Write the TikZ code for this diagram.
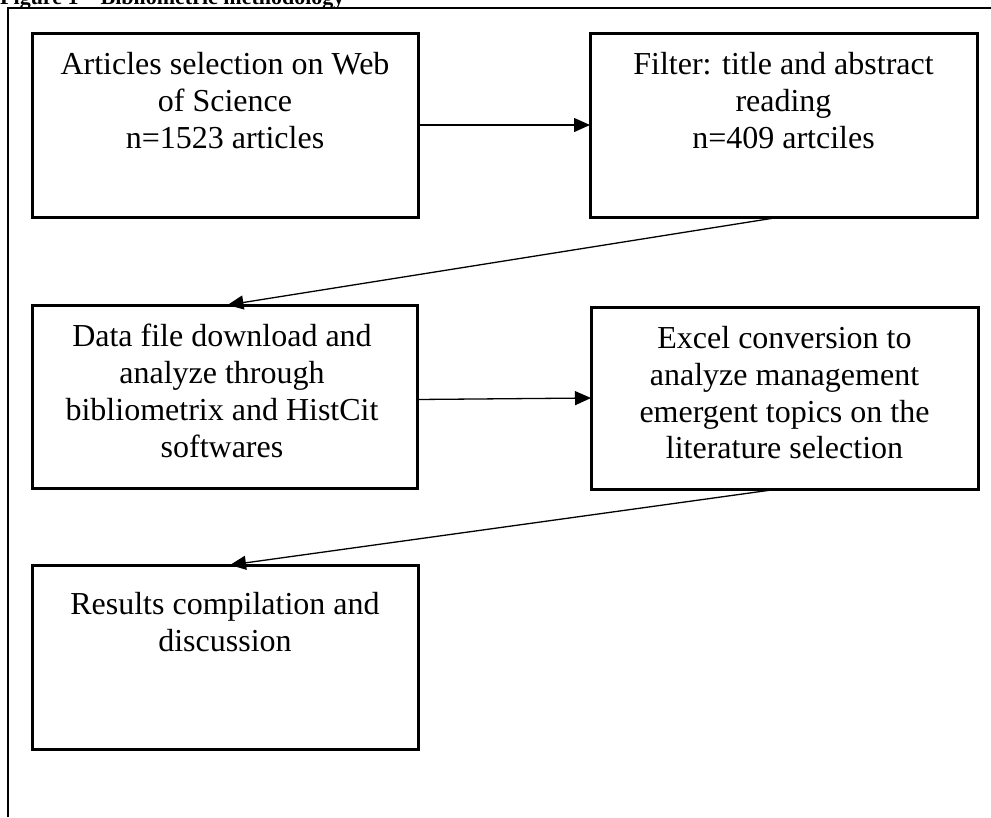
\documentclass[tikz,border=0pt]{standalone}
\usepackage{fontspec}
\setmainfont{Liberation Serif}
\usetikzlibrary{arrows.meta,calc}
\tikzset{
  stage/.style={draw, line width=3pt, inner sep=0pt, outer sep=0pt,
    minimum width=386pt, minimum height=184pt},
  stagetext/.style={font=\fontsize{32}{36.8}\selectfont, align=center,
    anchor=north, inner sep=0pt},
  flow/.style={-{Triangle[length=16pt,width=14pt]}, line width=1.3pt},
  frame/.style={line width=1.6pt}
}
\begin{document}
\begin{tikzpicture}[x=1pt,y=-1pt]
  \useasboundingbox (0,0) rectangle (991,817);
  \clip (0,0) rectangle (991,817);

  % caption, mostly above the page edge
  \node[anchor=base west, inner sep=0pt, font=\fontsize{22}{25}\selectfont\bfseries]
    (caption) at (0,4) {Figure 1 -- Bibliometric methodology};

  % outer frame
  \coordinate (fbl) at (8,817);
  \coordinate (ftl) at (8,8);
  \coordinate (ftr) at (991,8);
  \draw[frame] (fbl) -- (ftl) -- (ftr);

  % stage boxes
  \node[stage] (b1) at (225,125) {};
  \node[stage, minimum width=387pt] (b2) at (783.5,125) {};
  \node[stage, minimum width=385pt, minimum height=183pt] (b3) at (224.5,396.5) {};
  \node[stage, minimum width=387pt, minimum height=182pt] (b4) at (784.5,398) {};
  \node[stage] (b5) at (225,657) {};

  % stage texts
  \node[stagetext] (t1) at (225,52) {Articles selection on Web\\of Science\\n=1523 articles};
  \node[stagetext] (t2) at (783.5,52) {Filter: title and abstract\\reading\\n=409 artciles};
  \node[stagetext] (t3) at (222,324) {Data file download and\\analyze through\\bibliometrix and HistCit\\softwares};
  \node[stagetext] (t4) at (784.5,326) {Excel conversion to\\analyze management\\emergent topics on the\\literature selection};
  \node[stagetext] (t5) at (225,592) {Results compilation and\\discussion};

  % connectors
  \draw[flow] (b1.east) -- (b2.west);
  \draw[flow] ($(b2.south)+(-3,0)$) -- ($(b3.north)+(3,0)$);
  \draw[flow] ($(b3.east)+(0,3)$) -- ($(b4.west)+(0,0)$);
  \draw[flow] ($(b4.south)+(-6,0)$) -- ($(b5.north)+(5,0)$);
\end{tikzpicture}
\end{document}
